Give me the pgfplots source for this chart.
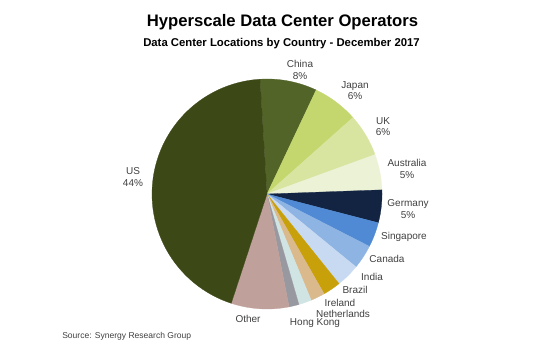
\documentclass[border=0pt]{standalone}
\usepackage{pgfplots}
\pgfplotsset{compat=1.18}
\usepackage{fontspec}
\setmainfont{Liberation Sans}
\definecolor{cUS}{RGB}{60,72,22}
\definecolor{cChina}{RGB}{82,100,40}
\definecolor{cJapan}{RGB}{196,215,110}
\definecolor{cUK}{RGB}{216,229,160}
\definecolor{cAustralia}{RGB}{236,242,214}
\definecolor{cGermany}{RGB}{18,36,66}
\definecolor{cSingapore}{RGB}{80,138,212}
\definecolor{cCanada}{RGB}{142,180,227}
\definecolor{cIndia}{RGB}{200,218,242}
\definecolor{cBrazil}{RGB}{200,160,10}
\definecolor{cIreland}{RGB}{218,186,140}
\definecolor{cNetherlands}{RGB}{208,228,228}
\definecolor{cHongKong}{RGB}{152,152,160}
\definecolor{cOther}{RGB}{192,160,154}
\definecolor{lbl}{RGB}{64,64,64}
\begin{document}
\begin{tikzpicture}
\begin{axis}[
  scale only axis, width=411pt, height=264.75pt,
  xmin=0, xmax=548, ymin=0, ymax=353,
  axis lines=none, clip=false,
]
\draw[draw=none] (rel axis cs:0,0) rectangle (rel axis cs:1,1);
% shares in percent, clockwise from China
\gdef\cum{93.5}
\foreach \s/\c in {8.0/cChina, 6.4/cJapan, 6.0/cUK, 5.0/cAustralia, 4.6/cGermany,
                   3.5/cSingapore, 3.4/cCanada, 3.3/cIndia, 2.5/cBrazil, 2.0/cIreland,
                   1.8/cNetherlands, 1.4/cHongKong, 8.1/cOther, 44.0/cUS} {
  \pgfmathsetmacro\a{\cum}
  \pgfmathsetmacro\b{\cum-3.6*\s}
  \edef\temp{\noexpand\addplot[fill=\c, draw=\c, line width=0.2pt, domain=\b:\a, samples=60, variable=\noexpand\t]
     ({267+115*cos(\noexpand\t)},{159+115*sin(\noexpand\t)}) -- (axis cs:267,159) -- cycle;}
  \temp
  \xdef\cum{\b}
}
\node[font=\bfseries\fontsize{12.5}{14}\selectfont] at (axis cs:282.5,331) {Hyperscale Data Center Operators};
\node[font=\bfseries\fontsize{8.5}{10}\selectfont] at (axis cs:281.5,309) {Data Center Locations by Country - December 2017};
\node[font=\fontsize{6.4}{8}\selectfont, text=lbl, anchor=west, inner sep=0pt] at (axis cs:62,17) {Source: Synergy Research Group};
\begin{scope}[every node/.style={font=\fontsize{7.5}{8.4}\selectfont, text=lbl, align=center, inner sep=0pt}]
\node at (axis cs:133,176) {US\\44\%};
\node at (axis cs:300,283) {China\\8\%};
\node at (axis cs:355,262) {Japan\\6\%};
\node at (axis cs:383,226) {UK\\6\%};
\node at (axis cs:407,184) {Australia\\5\%};
\node at (axis cs:408,144) {Germany\\5\%};
\node at (axis cs:404,116) {Singapore};
\node at (axis cs:387,94) {Canada};
\node at (axis cs:372,76) {India};
\node at (axis cs:355,63) {Brazil};
\node at (axis cs:340,50) {Ireland};
\node at (axis cs:343,39.5) {Netherlands};
\node at (axis cs:315,29.5) {Hong Kong};
\node at (axis cs:248,34) {Other};
\end{scope}
\end{axis}
\end{tikzpicture}
\end{document}
